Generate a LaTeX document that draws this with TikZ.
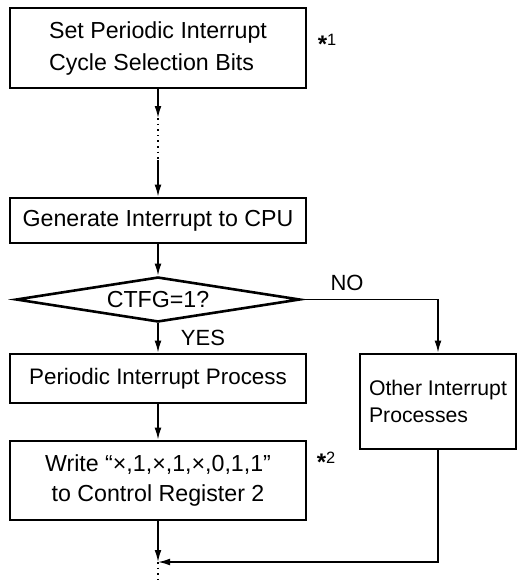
\documentclass[tikz,border=0pt]{standalone}
\usepackage{fontspec}
\setmainfont{Liberation Sans}
\usetikzlibrary{shapes.geometric,arrows.meta}
\newcommand{\starnote}[1]{\raisebox{-3.4pt}{\fontsize{12}{12}\selectfont\textbf{*}}#1}
\begin{document}
\begin{tikzpicture}[x=0.5pt,y=-0.5pt,
  box/.style={draw,line width=1.3pt,minimum width=148pt,inner sep=0pt,
    font=\fontsize{11.6}{15.5}\selectfont},
  flow/.style={line width=0.8pt,-{Latex[length=6pt,width=3.4pt]}},
  answer/.style={font=\fontsize{11}{13}\selectfont,inner sep=0pt},
  note/.style={font=\fontsize{8.2}{9}\selectfont,inner sep=0pt}]
  \useasboundingbox (0,0) rectangle (517,584);

  % main column
  \node[box,minimum height=40pt,align=left,font=\fontsize{11.6}{16}\selectfont] (set) at (158,48)
    {Set Periodic Interrupt\\Cycle Selection Bits};
  \node[box,minimum height=22.5pt] (gen) at (158,220.5) {Generate Interrupt to CPU};
  \node[draw,diamond,aspect=6.6,line width=1.3pt,inner sep=0pt,
    minimum width=142pt,minimum height=22.5pt,
    font=\fontsize{11.6}{14}\selectfont] (dec) at (158,299.5) {CTFG=1?};
  \node[box,minimum height=24.5pt,font=\fontsize{11.2}{14}\selectfont] (per) at (158,378.5)
    {Periodic Interrupt Process};
  \node[box,minimum height=39.5pt,align=center,font=\fontsize{11.6}{15}\selectfont] (wr) at (158,480.5)
    {Write “×,1,×,1,×,0,1,1”\\to Control Register 2};

  % side branch
  \node[box,minimum width=78pt,minimum height=47.5pt,align=left,
    font=\fontsize{10.6}{13.5}\selectfont] (oth) at (438,401.5)
    {Other Interrupt\\Processes};

  % labels
  \node[answer] (no) at (347,283) {NO};
  \node[answer] (yes) at (203,338) {YES};
  \node[note] (n1) at (327,43) {\starnote{1}};
  \node[note] (n2) at (326,461) {\starnote{2}};

  \coordinate (d1) at (158,118);
  \coordinate (d2) at (158,160);
  \coordinate (join) at (158,562);
  \coordinate (end) at (158,584);

  % connectors
  \draw[flow] (set) -- (d1);
  \draw[dotted,line width=0.8pt] (d1) -- (d2);
  \draw[flow] (d2) -- (gen);
  \draw[flow] (gen) -- (dec);
  \draw[flow] (dec) -- (per);
  \draw[flow] (dec.east) -| (oth);
  \draw[flow] (per) -- (wr);
  \draw[flow] (wr) -- (join);
  \draw[flow] (oth) |- (join);
  \draw[dotted,line width=0.8pt] (join) -- (end);
\end{tikzpicture}
\end{document}
